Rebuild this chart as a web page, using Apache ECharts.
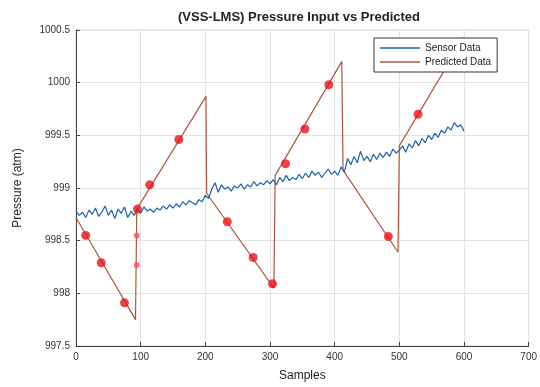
<!DOCTYPE html>
<html>
<head>
<meta charset="utf-8">
<script src="https://cdn.jsdelivr.net/npm/echarts@6/dist/echarts.min.js"></script>
<style>
  html, body { margin: 0; padding: 0; background: #fff; }
  #chart { width: 540px; height: 387px; }
</style>
</head>
<body>
<div id="chart"></div>
<script>
// sensor readings, one every 5 samples (0..600)
const sensorStep = 5;
const sensorValues = [
    998.78, 998.74, 998.77, 998.72, 998.79, 998.75, 998.81, 998.73, 998.77, 998.83,
    998.74, 998.79, 998.71, 998.80, 998.76, 998.82, 998.72, 998.78, 998.74, 998.80,
    998.76, 998.82, 998.78, 998.80, 998.77, 998.81, 998.79, 998.83, 998.80, 998.84,
    998.81, 998.85, 998.82, 998.87, 998.84, 998.88, 998.86, 998.84, 998.89, 998.87,
    998.93, 998.90, 998.99, 999.05, 998.96, 999.03, 998.99, 999.01, 998.97, 999.02,
    999.00, 999.04, 998.99, 999.03, 999.01, 999.06, 999.02, 999.05, 999.03, 999.07,
    999.04, 999.08, 999.03, 999.10, 999.06, 999.12, 999.07, 999.10, 999.08, 999.13,
    999.09, 999.14, 999.10, 999.16, 999.12, 999.15, 999.10, 999.14, 999.18, 999.13,
    999.16, 999.12, 999.20, 999.15, 999.28, 999.22, 999.30, 999.24, 999.35, 999.26,
    999.30, 999.25, 999.32, 999.27, 999.33, 999.29, 999.34, 999.30, 999.37, 999.33,
    999.36, 999.40, 999.34, 999.42, 999.38, 999.45, 999.40, 999.47, 999.43, 999.50,
    999.46, 999.52, 999.48, 999.55, 999.52, 999.58, 999.55, 999.62, 999.58, 999.60,
    999.54
];

// predicted sawtooth, corner points
const predictedX = [0, 92, 94, 201, 202, 306, 308, 411, 413, 498, 500, 600];
const predictedY = [998.72, 997.75, 998.80, 999.87, 998.95, 998.05, 999.12, 1000.20, 999.17, 998.39, 999.40, 1000.43];

// red markers on the predicted line
const markerX = [15, 39, 75, 95, 114, 159, 234, 274, 304, 324, 354, 391, 483, 529];
const markerY = [998.55, 998.29, 997.91, 998.80, 999.03, 999.46, 998.68, 998.34, 998.09, 999.23, 999.56, 999.98, 998.54, 999.70];
// fainter small markers on the jump at ~94
const smallMarkerX = [94, 94];
const smallMarkerY = [998.55, 998.27];

const sensorData = sensorValues.map((v, i) => [i * sensorStep, v]);
const predictedData = predictedX.map((x, i) => [x, predictedY[i]]);
const markerData = markerX.map((x, i) => [x, markerY[i]]);
const smallMarkerData = smallMarkerX.map((x, i) => [x, smallMarkerY[i]]);

const chart = echarts.init(document.getElementById('chart'));
const font = 'Liberation Sans, Arial, sans-serif';

chart.setOption({
    animation: false,
    textStyle: { fontFamily: font },
    title: {
        text: '(VSS-LMS) Pressure Input vs Predicted',
        left: 294,
        textAlign: 'center',
        top: 6,
        textStyle: { fontSize: 13, fontWeight: 'bold', color: '#222', fontFamily: font },
    },
    grid: {
        left: 76,
        right: 9,
        top: 30,
        bottom: 37,
        show: true,
        borderColor: '#d0d0d0',
        borderWidth: 1,
    },
    legend: {
        data: ['Sensor Data', 'Predicted Data'],
        orient: 'vertical',
        left: 374,
        top: 38,
        padding: [5, 6, 5, 6],
        itemGap: 4,
        itemWidth: 40,
        itemHeight: 1.5,
        icon: 'rect',
        backgroundColor: '#fff',
        borderColor: '#333',
        borderWidth: 1,
        textStyle: { fontSize: 10, color: '#222', fontFamily: font },
    },
    xAxis: {
        type: 'value',
        min: 0,
        max: 700,
        interval: 100,
        name: 'Samples',
        nameLocation: 'middle',
        nameGap: 24,
        nameTextStyle: { fontSize: 12, color: '#222' },
        axisLine: { onZero: false, lineStyle: { color: '#444' } },
        axisTick: { inside: true, length: 4, lineStyle: { color: '#444' } },
        axisLabel: { fontSize: 10, color: '#333', margin: 6 },
        splitLine: { show: true, lineStyle: { color: '#e3e3e3' } },
    },
    yAxis: {
        type: 'value',
        min: 997.5,
        max: 1000.5,
        interval: 0.5,
        name: 'Pressure (atm)',
        nameLocation: 'middle',
        nameGap: 52,
        nameTextStyle: { fontSize: 12, color: '#222' },
        axisLine: { show: true, lineStyle: { color: '#444' } },
        axisTick: { show: true, inside: true, length: 4, lineStyle: { color: '#444' } },
        axisLabel: { fontSize: 10, color: '#333', margin: 6, formatter: (v) => String(v) },
        splitLine: { show: true, lineStyle: { color: '#e3e3e3' } },
    },
    series: [
        {
            name: 'Sensor Data',
            type: 'line',
            data: sensorData,
            showSymbol: false,
            symbol: 'none',
            color: '#1f62aa',
            lineStyle: { width: 1.2, color: '#1f62aa' },
            z: 3,
        },
        {
            name: 'Predicted Data',
            type: 'line',
            data: predictedData,
            showSymbol: false,
            symbol: 'none',
            color: '#b0553f',
            lineStyle: { width: 1.2, color: '#b0553f' },
            z: 2,
        },
        {
            name: 'markers',
            type: 'scatter',
            data: markerData,
            symbol: 'circle',
            symbolSize: 9,
            itemStyle: { color: '#e3151b' },
            z: 4,
        },
        {
            name: 'small markers',
            type: 'scatter',
            data: smallMarkerData,
            symbol: 'circle',
            symbolSize: 6,
            itemStyle: { color: '#ec5a5e' },
            z: 4,
        },
    ],
});
</script>
</body>
</html>
